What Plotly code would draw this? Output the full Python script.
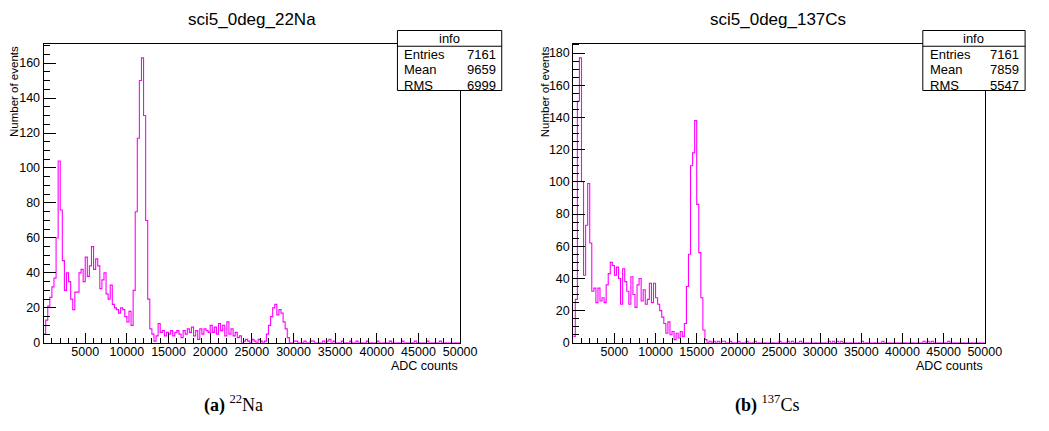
import numpy as np
import plotly.graph_objects as go

W, H = 1049, 431

# ---- data: ADC spectra, 200 bins of 250 ADC counts from 0 to 50000 ----
bin_width = 250
adc_min, adc_max = 0, 50000

na22_counts = [
    5, 13, 21, 26, 32, 37, 60, 104, 76, 47,
    30, 40, 35, 25, 19, 29, 29, 40, 42, 35,
    49, 38, 44, 55, 42, 48, 44, 31, 36, 40,
    28, 25, 33, 22, 20, 19, 17, 20, 19, 15,
    12, 18, 10, 30, 75, 117, 150, 163, 130, 70,
    25, 8, 5, 1, 4, 11, 6, 7, 4, 6,
    5, 7, 4, 6, 7, 5, 3, 7, 5, 8,
    6, 9, 4, 7, 2, 8, 5, 8, 7, 6,
    10, 6, 9, 5, 11, 7, 10, 4, 12, 5,
    8, 4, 6, 3, 4, 0, 1, 2, 1, 0,
    2, 1, 0, 2, 1, 0, 1, 5, 10, 15,
    20, 22, 16, 19, 17, 12, 8, 3, 0, 0,
    1, 1, 0, 0, 0, 1, 0, 0, 1, 1,
    0, 0, 0, 0, 1, 0, 1, 2, 0, 1,
    0, 0, 0, 1, 0, 0, 0, 1, 0, 0,
    1, 0, 0, 0, 0, 1, 0, 0, 0, 0,
    1, 0, 0, 0, 0, 0, 1, 0, 0, 0,
    0, 0, 1, 0, 0, 0, 0, 0, 1, 0,
    0, 0, 0, 0, 1, 0, 0, 0, 0, 0,
    1, 0, 0, 0, 0, 0, 0, 0, 0, 0,
]

cs137_counts = [
    4, 27, 150, 177, 100, 42, 73, 99, 62, 32,
    34, 25, 34, 26, 28, 25, 36, 43, 50, 48,
    42, 47, 40, 24, 46, 38, 32, 24, 41, 30,
    22, 36, 40, 26, 33, 24, 27, 37, 25, 37,
    28, 24, 20, 16, 12, 6, 13, 5, 7, 2,
    6, 3, 7, 4, 12, 35, 55, 110, 118, 138,
    86, 56, 28, 8, 2, 0, 1, 0, 1, 0,
    1, 0, 1, 1, 0, 0, 1, 0, 0, 0,
    1, 0, 0, 0, 1, 0, 0, 0, 1, 0,
    0, 0, 0, 0, 0, 0, 0, 0, 0, 0,
    1, 0, 0, 0, 1, 0, 1, 0, 0, 0,
    1, 0, 0, 0, 0, 0, 0, 0, 0, 0,
    0, 0, 0, 0, 1, 0, 1, 0, 1, 0,
    1, 0, 0, 0, 0, 0, 0, 0, 0, 0,
    1, 0, 0, 0, 0, 0, 0, 0, 0, 0,
    1, 0, 0, 0, 0, 0, 0, 0, 0, 0,
    0, 0, 0, 0, 0, 0, 0, 0, 0, 0,
    1, 0, 1, 0, 1, 0, 0, 0, 0, 0,
    0, 0, 1, 0, 0, 0, 0, 0, 0, 0,
    0, 0, 0, 0, 0, 0, 0, 0, 0, 0,
]

titles = ["sci5_0deg_22Na", "sci5_0deg_137Cs"]
captions = ["<b>(a)</b> <sup>22</sup>Na", "<b>(b)</b> <sup>137</sup>Cs"]
stat_labels = ["Entries", "Mean", "RMS"]
na22_stats = ["7161", "9659", "6999"]
cs137_stats = ["7161", "7859", "5547"]
x_tick_values = [5000, 10000, 15000, 20000, 25000, 30000, 35000, 40000, 45000, 50000]

# ---- layout geometry (pixels) ----
panels = [
    dict(counts=na22_counts, stats=na22_stats, title=titles[0], caption=captions[0],
         x0=44.3, x1=467.7, box=(404, 510), title_x=256, caption_x=237, ytitle_x=14.5),
    dict(counts=cs137_counts, stats=cs137_stats, title=titles[1], caption=captions[1],
         x0=582.7, x1=1001.0, box=(938, 1042), title_x=791, caption_x=780, ytitle_x=553.5),
]
plot_top, plot_bottom = 44.3, 348.5
MAGENTA = "#ff00ff"
SANS = "Liberation Sans, Arial, sans-serif"
SERIF = "Liberation Serif, Times New Roman, serif"


def px(x):
    return x / W


def py(y):
    return 1 - y / H


fig = go.Figure()
edges = np.arange(adc_min, adc_max + bin_width, bin_width)
shapes, annotations = [], []

for i, p in enumerate(panels):
    n = "" if i == 0 else str(i + 1)
    counts = p["counts"]
    fig.add_trace(go.Scatter(
        x=edges, y=list(counts) + [counts[-1]],
        mode="lines", line=dict(color=MAGENTA, width=1.1, shape="hv"),
        xaxis="x" + n, yaxis="y" + n, showlegend=False, hoverinfo="skip",
    ))
    ymax = 1.05 * max(counts)
    axis_common = dict(showline=True, linecolor="black", linewidth=1, mirror=True,
                       showgrid=False, zeroline=False, ticks="inside", tickcolor="black",
                       tickfont=dict(family=SANS, size=12.5, color="black"))
    fig.update_layout(**{
        "xaxis" + n: dict(
            axis_common, domain=[px(p["x0"]), px(p["x1"])], range=[adc_min, adc_max],
            anchor="y" + n, tickmode="array", tickvals=x_tick_values,
            ticktext=[str(v) for v in x_tick_values], ticklen=10, ticklabelstandoff=-3,
            minor=dict(ticks="inside", tickmode="linear", tick0=0, dtick=1000,
                       ticklen=5, tickcolor="black"),
        ),
        "yaxis" + n: dict(
            axis_common, domain=[py(plot_bottom), py(plot_top)], range=[0, ymax],
            anchor="x" + n, tickmode="linear", tick0=0, dtick=20, ticklen=12,
            minor=dict(ticks="inside", tickmode="linear", tick0=0, dtick=5,
                       ticklen=6, tickcolor="black"),
        ),
    })

    # titles and axis labels
    annotations.append(dict(text=p["title"], x=px(p["title_x"]), y=py(20), xref="paper", yref="paper",
                            xanchor="center", yanchor="middle", showarrow=False,
                            font=dict(family=SANS, size=17, color="black")))
    annotations.append(dict(text="ADC counts", x=px(p["x1"]), y=py(372), xref="paper", yref="paper",
                            xanchor="right", yanchor="middle", showarrow=False,
                            font=dict(family=SANS, size=12.5, color="black")))
    annotations.append(dict(text="Number of events", x=px(p["ytitle_x"]), y=py(45), xref="paper",
                            yref="paper", xanchor="center", yanchor="top", textangle=-90,
                            showarrow=False, font=dict(family=SANS, size=11.5, color="black")))
    annotations.append(dict(text=p["caption"], x=px(p["caption_x"]), y=py(411), xref="paper",
                            yref="paper", xanchor="center", yanchor="middle", showarrow=False,
                            font=dict(family=SERIF, size=18, color="black")))

    # statistics box
    bx0, bx1 = p["box"]
    shapes.append(dict(type="rect", xref="paper", yref="paper", x0=px(bx0), x1=px(bx1),
                       y0=py(92), y1=py(31), fillcolor="white",
                       line=dict(color="black", width=1), layer="above"))
    shapes.append(dict(type="line", xref="paper", yref="paper", x0=px(bx0), x1=px(bx1),
                       y0=py(47), y1=py(47), line=dict(color="black", width=1), layer="above"))
    annotations.append(dict(text="info", x=px((bx0 + bx1) / 2), y=py(39), xref="paper", yref="paper",
                            xanchor="center", yanchor="middle", showarrow=False,
                            font=dict(family=SANS, size=13, color="black")))
    for k, (lab, val) in enumerate(zip(stat_labels, p["stats"])):
        yy = py(55 + 16 * k)
        annotations.append(dict(text=lab, x=px(bx0 + 5), y=yy, xref="paper", yref="paper",
                                xanchor="left", yanchor="middle", showarrow=False,
                                font=dict(family=SANS, size=13, color="black")))
        annotations.append(dict(text=val, x=px(bx1 - 4), y=yy, xref="paper", yref="paper",
                                xanchor="right", yanchor="middle", showarrow=False,
                                font=dict(family=SANS, size=13, color="black")))

fig.update_layout(
    width=W, height=H, autosize=False,
    margin=dict(l=0, r=0, t=0, b=0),
    paper_bgcolor="white", plot_bgcolor="white",
    shapes=shapes, annotations=annotations,
)

fig.write_html("out.html")
